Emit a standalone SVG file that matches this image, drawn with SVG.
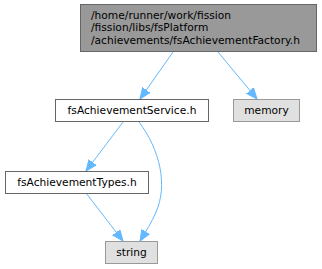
<svg xmlns="http://www.w3.org/2000/svg" width="322" height="269" viewBox="0 0 322 269">
<style>
text{font-family:"DejaVu Sans","Liberation Sans",sans-serif;font-size:10.67px;fill:#000}
.n rect{fill:#fff;stroke:#666;stroke-width:1}
.n.main rect{fill:#999;stroke:#666}
.n.sys rect{fill:#e0e0e0;stroke:#999}
.e{fill:none;stroke:#63b8ff;stroke-width:1}
.ah{fill:#63b8ff;stroke:#63b8ff}
</style>
<defs>
<marker id="arr" viewBox="0 0 12 10" refX="11" refY="5" markerWidth="12" markerHeight="10" markerUnits="userSpaceOnUse" orient="auto">
<path d="M0,0.5 L11,5 L0,9.5 Z" class="ah"/>
</marker>
</defs>
<rect width="322" height="269" fill="#fff"/>
<g id="edges">
<path class="e" d="M173,52 L140,99" marker-end="url(#arr)"/>
<path class="e" d="M218,52 L257,99" marker-end="url(#arr)"/>
<path class="e" d="M123,122 L86,171" marker-end="url(#arr)"/>
<path class="e" d="M139,122 C160,150 168,185 156,212 C152,222 146,231 140,241" marker-end="url(#arr)"/>
<path class="e" d="M86,193 L123,241" marker-end="url(#arr)"/>
</g>
<g id="node1" class="n main">
<rect x="80.5" y="4.5" width="236" height="47"/>
<text x="91" y="19">/home/runner/work/fission</text>
<text x="91" y="31">/fission/libs/fsPlatform</text>
<text x="91" y="44">/achievements/fsAchievementFactory.h</text>
</g>
<g id="node2" class="n">
<rect x="55.5" y="99.5" width="153" height="22"/>
<text x="132" y="114" text-anchor="middle">fsAchievementService.h</text>
</g>
<g id="node3" class="n sys">
<rect x="233.5" y="99.5" width="66" height="22"/>
<text x="266.5" y="114" text-anchor="middle">memory</text>
</g>
<g id="node4" class="n">
<rect x="5.5" y="171.5" width="143" height="22"/>
<text x="77" y="186" text-anchor="middle">fsAchievementTypes.h</text>
</g>
<g id="node5" class="n sys">
<rect x="105.5" y="241.5" width="52" height="22"/>
<text x="131.5" y="256" text-anchor="middle">string</text>
</g>
</svg>
